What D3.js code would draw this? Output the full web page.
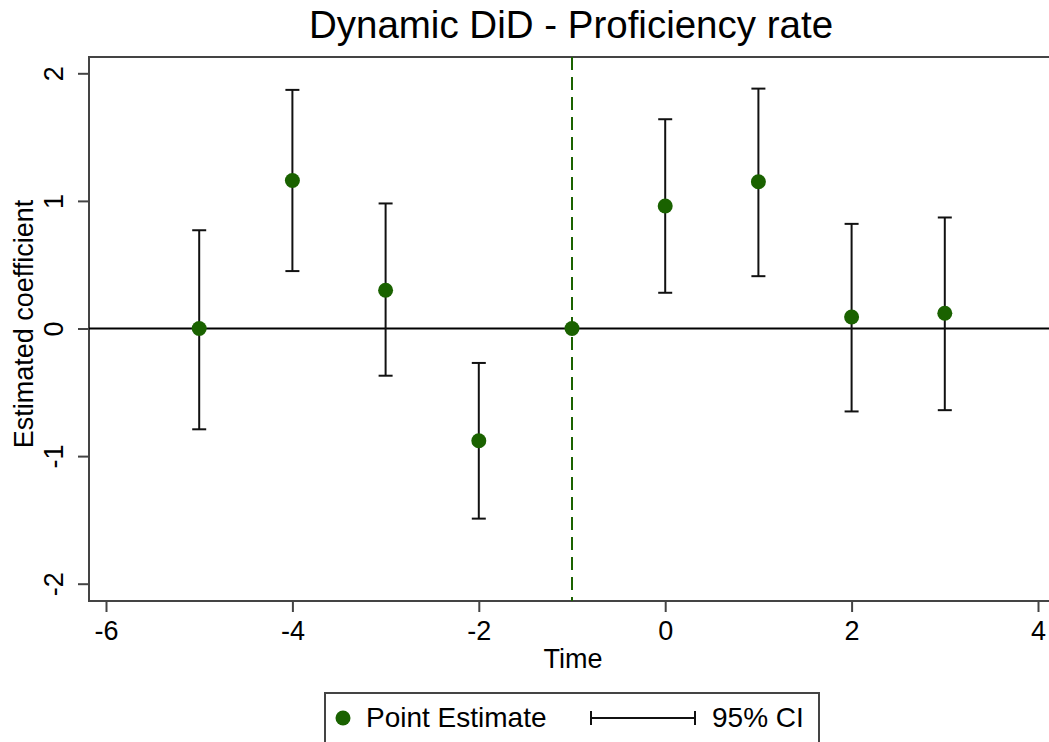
<!DOCTYPE html>
<html>
<head>
<meta charset="utf-8">
<script src="https://cdn.jsdelivr.net/npm/d3@7"></script>
<style>
  body { margin: 0; background: #fff; }
  text { font-family: "Liberation Sans", Arial, sans-serif; fill: #000; }
</style>
</head>
<body>
<script>
var width = 1049,
    height = 742;

// event time, point estimates and 95% CI bounds (reference period -1 has no CI)
var periods = [-5, -4, -3, -2, -1, 0, 1, 2, 3];
var estimates = [0.00, 1.16, 0.30, -0.88, 0.00, 0.96, 1.15, 0.09, 0.12];
var ciLower = [-0.79, 0.45, -0.37, -1.49, null, 0.28, 0.41, -0.65, -0.64];
var ciUpper = [0.77, 1.87, 0.98, -0.27, null, 1.64, 1.88, 0.82, 0.87];
var xTicks = [-6, -4, -2, 0, 2, 4];
var yTicks = [-2, -1, 0, 1, 2];
var eventLine = -1;

var green = "#1a6200",
    frameColor = "#444";

var data = periods.map(function(p, i) {
  return { t: p, b: estimates[i], lo: ciLower[i], hi: ciUpper[i] };
});

var x = d3.scaleLinear().domain([-6, 4]).range([106, 1038]);
var y = d3.scaleLinear().domain([-2, 2]).range([583.7, 73.3]);

var plotLeft = 89, plotTop = 57, plotBottom = 601, plotRight = 1060;

var svg = d3.select("body").append("svg")
    .attr("width", width)
    .attr("height", height)
    .style("display", "block");

// plot frame
svg.append("rect")
    .attr("x", plotLeft)
    .attr("y", plotTop)
    .attr("width", plotRight - plotLeft)
    .attr("height", plotBottom - plotTop)
    .attr("fill", "none")
    .attr("stroke", frameColor)
    .attr("stroke-width", 2);

// axes
var yAxis = svg.append("g")
    .attr("transform", "translate(" + plotLeft + ",0)")
    .call(d3.axisLeft(y).tickValues(yTicks).tickSize(11).tickFormat(function(d) { return String(d); }));
yAxis.select(".domain").remove();
yAxis.selectAll(".tick line").attr("stroke", frameColor).attr("stroke-width", 2);
yAxis.selectAll(".tick text")
    .attr("transform", "rotate(-90)")
    .attr("x", 0)
    .attr("y", -26)
    .attr("dy", 0)
    .attr("text-anchor", "middle")
    .style("font-size", "27px");

var xAxis = svg.append("g")
    .attr("transform", "translate(0," + plotBottom + ")")
    .call(d3.axisBottom(x).tickValues(xTicks).tickSize(11).tickFormat(function(d) { return String(d); }));
xAxis.select(".domain").remove();
xAxis.selectAll(".tick line").attr("stroke", frameColor).attr("stroke-width", 2);
xAxis.selectAll(".tick text")
    .attr("y", 39)
    .attr("dy", 0)
    .style("font-size", "27px");

// zero line
svg.append("line")
    .attr("x1", plotLeft).attr("x2", plotRight)
    .attr("y1", y(0)).attr("y2", y(0))
    .attr("stroke", "#000")
    .attr("stroke-width", 2);

// event line
svg.append("line")
    .attr("x1", x(eventLine)).attr("x2", x(eventLine))
    .attr("y1", plotTop).attr("y2", plotBottom)
    .attr("stroke", green)
    .attr("stroke-width", 2)
    .attr("stroke-dasharray", "13,7");

// confidence intervals
var ci = svg.append("g")
    .selectAll("g")
    .data(data.filter(function(d) { return d.lo != null; }))
    .enter().append("g")
    .attr("stroke", "#111")
    .attr("stroke-width", 2);

ci.append("line")
    .attr("x1", function(d) { return x(d.t); })
    .attr("x2", function(d) { return x(d.t); })
    .attr("y1", function(d) { return y(d.lo); })
    .attr("y2", function(d) { return y(d.hi); });

ci.selectAll(".cap")
    .data(function(d) { return [{ t: d.t, v: d.lo }, { t: d.t, v: d.hi }]; })
    .enter().append("line")
    .attr("class", "cap")
    .attr("x1", function(d) { return x(d.t) - 7; })
    .attr("x2", function(d) { return x(d.t) + 7; })
    .attr("y1", function(d) { return y(d.v); })
    .attr("y2", function(d) { return y(d.v); });

// point estimates
svg.append("g")
    .selectAll("circle")
    .data(data)
    .enter().append("circle")
    .attr("cx", function(d) { return x(d.t); })
    .attr("cy", function(d) { return y(d.b); })
    .attr("r", 7.5)
    .attr("fill", green);

// titles
svg.append("text")
    .attr("x", 571)
    .attr("y", 38)
    .attr("text-anchor", "middle")
    .style("font-size", "38.5px")
    .text("Dynamic DiD - Proficiency rate");

svg.append("text")
    .attr("x", 573)
    .attr("y", 668)
    .attr("text-anchor", "middle")
    .style("font-size", "27px")
    .text("Time");

svg.append("text")
    .attr("transform", "translate(33,324) rotate(-90)")
    .attr("text-anchor", "middle")
    .style("font-size", "27px")
    .text("Estimated coefficient");

// legend
var legend = svg.append("g");
legend.append("rect")
    .attr("x", 325).attr("y", 693)
    .attr("width", 494).attr("height", 60)
    .attr("fill", "#fff")
    .attr("stroke", frameColor)
    .attr("stroke-width", 2);
legend.append("circle")
    .attr("cx", 343).attr("cy", 718)
    .attr("r", 7.5)
    .attr("fill", green);
legend.append("text")
    .attr("x", 366).attr("y", 727)
    .style("font-size", "28px")
    .text("Point Estimate");
legend.append("line")
    .attr("x1", 591).attr("x2", 695)
    .attr("y1", 718).attr("y2", 718)
    .attr("stroke", "#111").attr("stroke-width", 2);
legend.selectAll(".lcap")
    .data([591, 695])
    .enter().append("line")
    .attr("x1", function(d) { return d; }).attr("x2", function(d) { return d; })
    .attr("y1", 711).attr("y2", 725)
    .attr("stroke", "#111").attr("stroke-width", 2);
legend.append("text")
    .attr("x", 712).attr("y", 727)
    .style("font-size", "28px")
    .text("95% CI");
</script>
</body>
</html>
